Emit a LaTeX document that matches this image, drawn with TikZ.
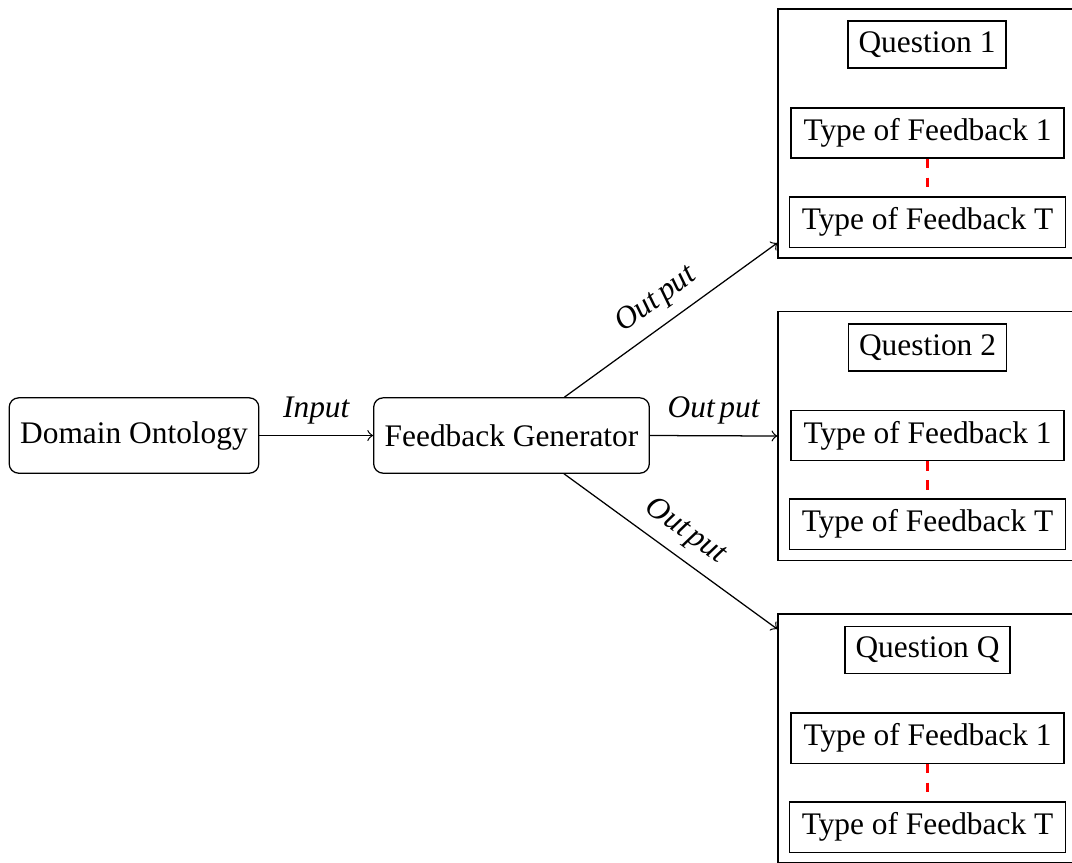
\documentclass[tikz,border=0pt]{standalone}
\usepackage{fontspec}
\setmainfont{Liberation Serif}
\begin{document}
\begin{tikzpicture}[x=0.3185pt,y=-0.3185pt,
  every node/.style={font=\fontsize{10pt}{12pt}\selectfont},
  mainbox/.style={draw, rounded corners=3pt, minimum height=24pt, inner xsep=3.5pt},
  qbox/.style={draw, inner sep=3.33pt},
  fbox/.style={draw, inner xsep=4pt, inner ysep=3.4pt},
  groupbox/.style={draw, minimum width=95.6pt, minimum height=79.3pt, inner sep=0pt},
  link/.style={->},
  lbl/.style={font=\fontsize{10pt}{12pt}\selectfont\itshape},
  elided/.style={draw=red, dashed, thick}
]
\useasboundingbox (0,0) rectangle (1072,862);

% outer question groups
\node[groupbox] (box1) at (928,133.5) {};
\node[groupbox] (box2) at (928,436) {};
\node[groupbox] (box3) at (928,738.5) {};

% main pipeline
\node[mainbox] (dom) at (134,435.5) {Domain Ontology};
\node[mainbox] (fg) at (511.5,435.5) {Feedback Generator};

% question 1
\node[qbox] (q1) at (927,44.5) {Question 1};
\node[fbox] (f11) at (927.5,133) {Type of Feedback 1};
\node[fbox] (f1T) at (927.5,222) {Type of Feedback T};

% question 2
\node[qbox] (q2) at (927.5,347.5) {Question 2};
\node[fbox] (f21) at (927.5,435.5) {Type of Feedback 1};
\node[fbox] (f2T) at (927.5,524) {Type of Feedback T};

% question Q
\node[qbox] (qQ) at (927.5,650) {Question Q};
\node[fbox] (fQ1) at (927.5,738) {Type of Feedback 1};
\node[fbox] (fQT) at (927.5,827) {Type of Feedback T};

% elided feedback types
\draw[elided] (f11.south) -- (f1T.north);
\draw[elided] (f21.south) -- (f2T.north);
\draw[elided] (fQ1.south) -- (fQT.north);

% connectors
\draw[link] (dom.east) -- node[lbl, above] {Input} (fg.west);
\draw[link] (fg.east) -- node[lbl, above] {Out\hspace{0.15em}put} (box2.west);
\draw[link] (fg) -- node[lbl, above, sloped] {Out\hspace{0.15em}put} ([yshift=5pt]box1.south west);
\draw[link] (fg) -- node[lbl, above, sloped] {Out\hspace{0.15em}put} ([yshift=-5pt]box3.north west);
\end{tikzpicture}
\end{document}
